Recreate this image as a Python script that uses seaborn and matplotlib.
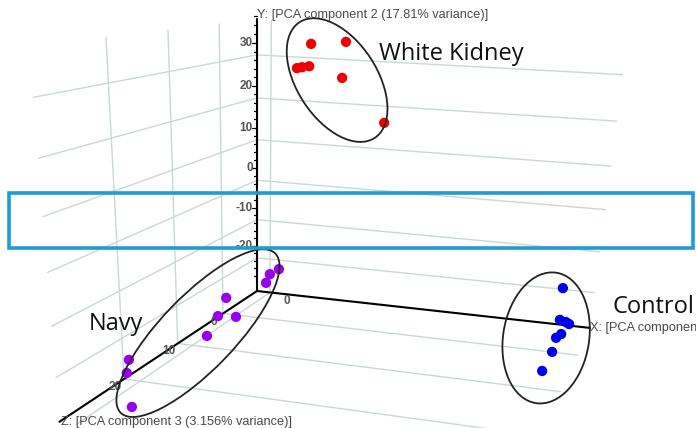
import numpy as np
import pandas as pd
import matplotlib
matplotlib.use("Agg")
import matplotlib.pyplot as plt
import seaborn as sns
from matplotlib.patches import Ellipse, Rectangle

# PCA scores (component 1, 2, 3) per group
wk_x = [19.0, 24.1, 17.8, 18.0, 17.8, 22.7, 31.1]
wk_y = [35.2, 35.4, 30.6, 30.6, 30.4, 27.6, 17.8]
wk_z = [2.0, -1.0, 4.0, 3.0, 1.0, -2.0, -4.0]
nv_x = [3.0, 1.0, 0.0, 1.0, 0.0, 2.0, 1.0, -1.0, 0.0, 5.0]
nv_y = [-21.9, -23.2, -25.6, -22.1, -26.0, -27.6, -28.2, -23.6, -25.3, -29.0]
nv_z = [-8.0, -7.6, -7.6, 3.4, 4.4, 2.1, 7.8, 20.9, 22.1, 25.3]
ct_x = [74.3, 75.3, 76.9, 77.1, 76.5, 75.8, 75.6, 74.6]
ct_y = [-15.8, -21.1, -20.7, -22.6, -22.8, -23.0, -25.5, -28.4]
ct_z = [-3.0, 0.0, 1.0, -1.0, 2.0, 3.0, 4.0, 6.0]

groups = ["White Kidney", "Navy", "Control"]
colors = {"White Kidney": "#f00000", "Navy": "#9a00f0", "Control": "#0000ee"}

y_ticks = [-20, -10, 0, 10, 20, 30]
z_ticks = [0, 10, 20]
x_ticks = [0]

x_title = "X: [PCA component 1]"
y_title = "Y: [PCA component 2 (17.81% variance)]"
z_title = "Z: [PCA component 3 (3.156% variance)]"

# perspective camera of the 3D view (screen pixels, y down)
O = (257, 291)
VX = (-3900, -170)
VY = (257, 2900)
VZ = (757, -40)
LX, XMIN, XMAX = -0.000888, -3.5, 80
LY, YMIN, YMAX = -0.001409, -28.9, 38
LZ, ZMIN, ZMAX = -0.00732, -8.7, 30


def project(x, y, z):
    tx = LX * (np.asarray(x, float) - XMIN)
    ty = LY * (np.asarray(y, float) - YMIN)
    tz = LZ * (np.asarray(z, float) - ZMIN)
    w = 1 + tx + ty + tz
    px = (O[0] + tx * VX[0] + ty * VY[0] + tz * VZ[0]) / w
    py = (O[1] + tx * VX[1] + ty * VY[1] + tz * VZ[1]) / w
    return px, py


df = pd.DataFrame({
    "group": ["White Kidney"] * len(wk_x) + ["Navy"] * len(nv_x) + ["Control"] * len(ct_x),
    "pc1": wk_x + nv_x + ct_x,
    "pc2": wk_y + nv_y + ct_y,
    "pc3": wk_z + nv_z + ct_z,
})
df["sx"], df["sy"] = project(df["pc1"], df["pc2"], df["pc3"])

sns.set_style("white")
fig = plt.figure(figsize=(6.96, 4.28), dpi=100)
ax = fig.add_axes([0, 0, 1, 1])
ax.set_xlim(0, 696)
ax.set_ylim(428, 0)
ax.axis("off")

grid_c = "#cbd7d7"


def seg(a, b, **kw):
    p0 = project(*a)
    p1 = project(*b)
    ax.plot([p0[0], p1[0]], [p0[1], p1[1]], **kw)


# grid on back wall, left wall and floor
for yv in y_ticks:
    seg((XMIN, yv, ZMIN), (XMAX, yv, ZMIN), color=grid_c, lw=1, zorder=1)
    seg((XMIN, yv, ZMIN), (XMIN, yv, ZMAX), color=grid_c, lw=1, zorder=1)
for zv in z_ticks:
    seg((XMIN, YMIN, zv), (XMIN, YMAX, zv), color=grid_c, lw=1, zorder=1)
    seg((XMIN, YMIN, zv), (XMAX, YMIN, zv), color=grid_c, lw=1, zorder=1)
for xv in x_ticks:
    seg((xv, YMIN, ZMIN), (xv, YMAX, ZMIN), color=grid_c, lw=1, zorder=1)
    seg((xv, YMIN, ZMIN), (xv, YMIN, ZMAX), color=grid_c, lw=1, zorder=1)

# axes
seg((XMIN, YMIN, ZMIN), (XMAX, YMIN, ZMIN), color="black", lw=1.5, zorder=3)
seg((XMIN, YMIN, ZMIN), (XMIN, YMAX, ZMIN), color="black", lw=1.5, zorder=3)
seg((XMIN, YMIN, ZMIN), (XMIN, YMIN, ZMAX), color="black", lw=1.5, zorder=3)

tick_font = dict(family="Liberation Sans", fontsize=8.5, color="#555555", fontweight="bold")
title_font = dict(family="Liberation Sans", fontsize=9.2, color="#4a4a4a")

# Y ticks (labels sit a little above the grid lines)
lab_shift = -12
for yv in np.arange(-28, YMAX, 2):
    px, py = project(XMIN, yv, ZMIN)
    ln = 5 if yv % 10 == 0 else 3
    ax.plot([px - ln, px], [py + lab_shift, py + lab_shift], color="black", lw=0.9, zorder=3)
for yv in y_ticks:
    px, py = project(XMIN, yv, ZMIN)
    ax.text(px - 4, py + lab_shift, str(yv), ha="right", va="center", zorder=4, **tick_font)
for zv in z_ticks:
    px, py = project(XMIN, YMIN, zv)
    ax.text(px - 9, py + 8, str(zv), ha="center", va="center", zorder=4, **tick_font)
for xv in x_ticks:
    px, py = project(xv, YMIN, ZMIN)
    ax.text(px + 17, py + 9, str(xv), ha="center", va="center", zorder=4, **tick_font)

px, py = project(XMIN, YMAX, ZMIN)
ax.text(px, py + 2, y_title, ha="left", va="bottom", zorder=4, **title_font)
px, py = project(XMAX, YMIN, ZMIN)
ax.text(px, py, x_title, ha="left", va="center", zorder=4, **title_font)
px, py = project(XMIN, YMIN, ZMAX)
ax.text(px + 2, py, z_title, ha="left", va="center", zorder=4, **title_font)

# points
sns.scatterplot(data=df, x="sx", y="sy", hue="group", palette=colors, hue_order=groups,
                s=55, edgecolor="none", legend=False, ax=ax, zorder=5)

# group ellipses (centre in PCA space, size in pixels)
ellipses = {
    "White Kidney": ((23.2, 27.6, 0.0), 138, 80, 57),
    "Navy": ((0.0, -26.9, 8.8), 222, 74, 134),
    "Control": ((72.8, -25.7, 0.0), 132, 86, 99),
}
for g, (c, w, h, ang) in ellipses.items():
    cx, cy = project(*c)
    ax.add_patch(Ellipse((cx, cy), w, h, angle=ang, fill=False, ec="#222222", lw=1.3, zorder=6))

label_font = dict(family="Open Sans", fontsize=17, color="#111111")
ax.text(379, 60, "White Kidney", ha="left", va="baseline", zorder=7, **label_font)
ax.text(89, 330, "Navy", ha="left", va="baseline", zorder=7, **label_font)
ax.text(613, 313, "Control", ha="left", va="baseline", zorder=7, **label_font)

# highlight box
ax.add_patch(Rectangle((9, 193), 684, 55, fill=False, ec="#1f9dd2", lw=2.6, zorder=8))

fig.savefig("out.png", dpi=100)
